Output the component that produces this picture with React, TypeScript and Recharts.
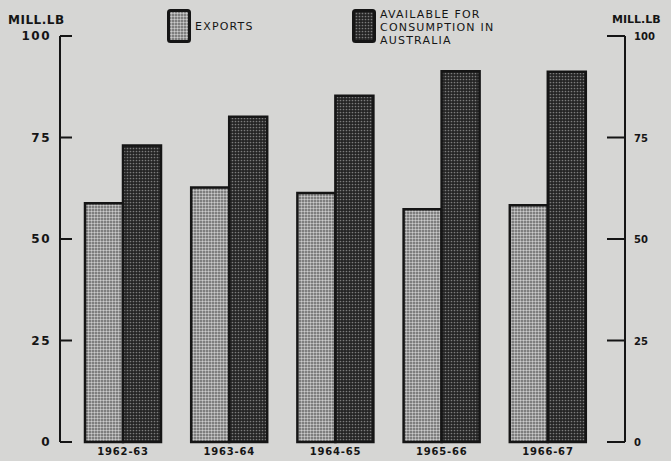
import React from 'react';
import { BarChart, Bar, XAxis, YAxis } from 'recharts';

// seasons on the x axis
const seasons = ['1962-63', '1963-64', '1964-65', '1965-66', '1966-67'];
// million lb
const exportsValues = [58.8, 62.7, 61.3, 57.3, 58.3];
const availableValues = [73.0, 80.1, 85.3, 91.3, 91.2];
const yTicks = [0, 25, 50, 75, 100];
const seriesNames = ['EXPORTS', 'AVAILABLE FOR\nCONSUMPTION IN\nAUSTRALIA'];
const unitLabel = 'MILL.LB';

const data = seasons.map((s, i) => ({
  season: s,
  exports: exportsValues[i],
  available: availableValues[i],
}));

const FONT = '"DejaVu Sans", Verdana, sans-serif';
const INK = '#151515';

const PatternDefs = () => (
  <svg width={0} height={0} style={{ position: 'absolute' }}>
    <defs>
      <pattern id="dotsLight" width={3} height={3} patternUnits="userSpaceOnUse">
        <rect width={3} height={3} fill="#646464" />
        <circle cx={1.5} cy={1.5} r={1.2} fill="#cbcbcb" />
      </pattern>
      <pattern id="dotsDark" width={3} height={3} patternUnits="userSpaceOnUse">
        <rect width={3} height={3} fill="#242424" />
        <circle cx={1.5} cy={1.5} r={0.85} fill="#7c7c7c" />
      </pattern>
    </defs>
  </svg>
);

const LeftTick = (props: any) => {
  const { x, y, payload } = props;
  return (
    <g>
      <line x1={x} y1={y} x2={x + 12} y2={y} stroke={INK} strokeWidth={2} />
      <text x={x - 9} y={y + 4} textAnchor="end" fontFamily={FONT} fontWeight="bold"
        fontSize={12} letterSpacing={1.5} fill={INK}>
        {payload.value}
      </text>
    </g>
  );
};

const RightTick = (props: any) => {
  const { x, y, payload } = props;
  return (
    <g>
      <line x1={x - 18} y1={y} x2={x} y2={y} stroke={INK} strokeWidth={2} />
      <text x={x + 9} y={y + 4} textAnchor="start" fontFamily={FONT} fontWeight="bold"
        fontSize={10} fill={INK}>
        {payload.value}
      </text>
    </g>
  );
};

const SwatchBox = ({ fill }: { fill: string }) => (
  <svg width={24} height={34} style={{ display: 'block' }}>
    <rect x={1.5} y={1.5} width={21} height={31} rx={2} fill={fill} stroke={INK} strokeWidth={3} />
  </svg>
);

const legendText: React.CSSProperties = {
  fontFamily: FONT,
  fontSize: 11,
  lineHeight: '13px',
  letterSpacing: 1.2,
  color: INK,
  whiteSpace: 'pre',
};

export default function App() {
  return (
    <div style={{ position: 'fixed', top: 0, left: 0, width: 671, height: 461, background: '#d6d6d4' }}>
      <PatternDefs />

      {/* unit labels */}
      <div style={{ position: 'absolute', left: 8, top: 13, fontFamily: FONT, fontWeight: 'bold', fontSize: 12, letterSpacing: 0.5, color: INK }}>
        {unitLabel}
      </div>
      <div style={{ position: 'absolute', left: 612, top: 13, fontFamily: FONT, fontWeight: 'bold', fontSize: 11, color: INK }}>
        {unitLabel}
      </div>

      {/* legend */}
      <div style={{ position: 'absolute', left: 167, top: 9 }}>
        <SwatchBox fill="url(#dotsLight)" />
      </div>
      <div style={{ ...legendText, position: 'absolute', left: 195, top: 20 }}>{seriesNames[0]}</div>
      <div style={{ position: 'absolute', left: 352, top: 9 }}>
        <SwatchBox fill="url(#dotsDark)" />
      </div>
      <div style={{ ...legendText, position: 'absolute', left: 380, top: 8 }}>{seriesNames[1]}</div>

      <BarChart
        width={671}
        height={461}
        data={data}
        margin={{ top: 36, right: 0, bottom: 0, left: 0 }}
        barGap={0}
        barSize={38}
        style={{ position: 'absolute', top: 0, left: 0 }}
      >
        <XAxis
          dataKey="season"
          padding={{ left: 10, right: 24 }}
          axisLine={false}
          tickLine={false}
          height={19}
          tick={{ fontFamily: FONT, fontWeight: 'bold', fontSize: 10, fill: INK, dy: -2, letterSpacing: 0.8 }}
          interval={0}
        />
        <YAxis
          yAxisId="left"
          orientation="left"
          width={60}
          domain={[0, 100]}
          ticks={yTicks}
          tickSize={0}
          tickMargin={0}
          tickLine={false}
          axisLine={{ stroke: INK, strokeWidth: 2 }}
          tick={<LeftTick />}
        />
        <YAxis
          yAxisId="right"
          orientation="right"
          width={46}
          domain={[0, 100]}
          ticks={yTicks}
          tickSize={0}
          tickMargin={0}
          tickLine={false}
          axisLine={{ stroke: INK, strokeWidth: 2 }}
          tick={<RightTick />}
        />
        <Bar yAxisId="left" dataKey="exports" fill="url(#dotsLight)" stroke={INK} strokeWidth={2.5} isAnimationActive={false} />
        <Bar yAxisId="right" dataKey="available" fill="url(#dotsDark)" stroke={INK} strokeWidth={2.5} isAnimationActive={false} />
      </BarChart>
    </div>
  );
}
